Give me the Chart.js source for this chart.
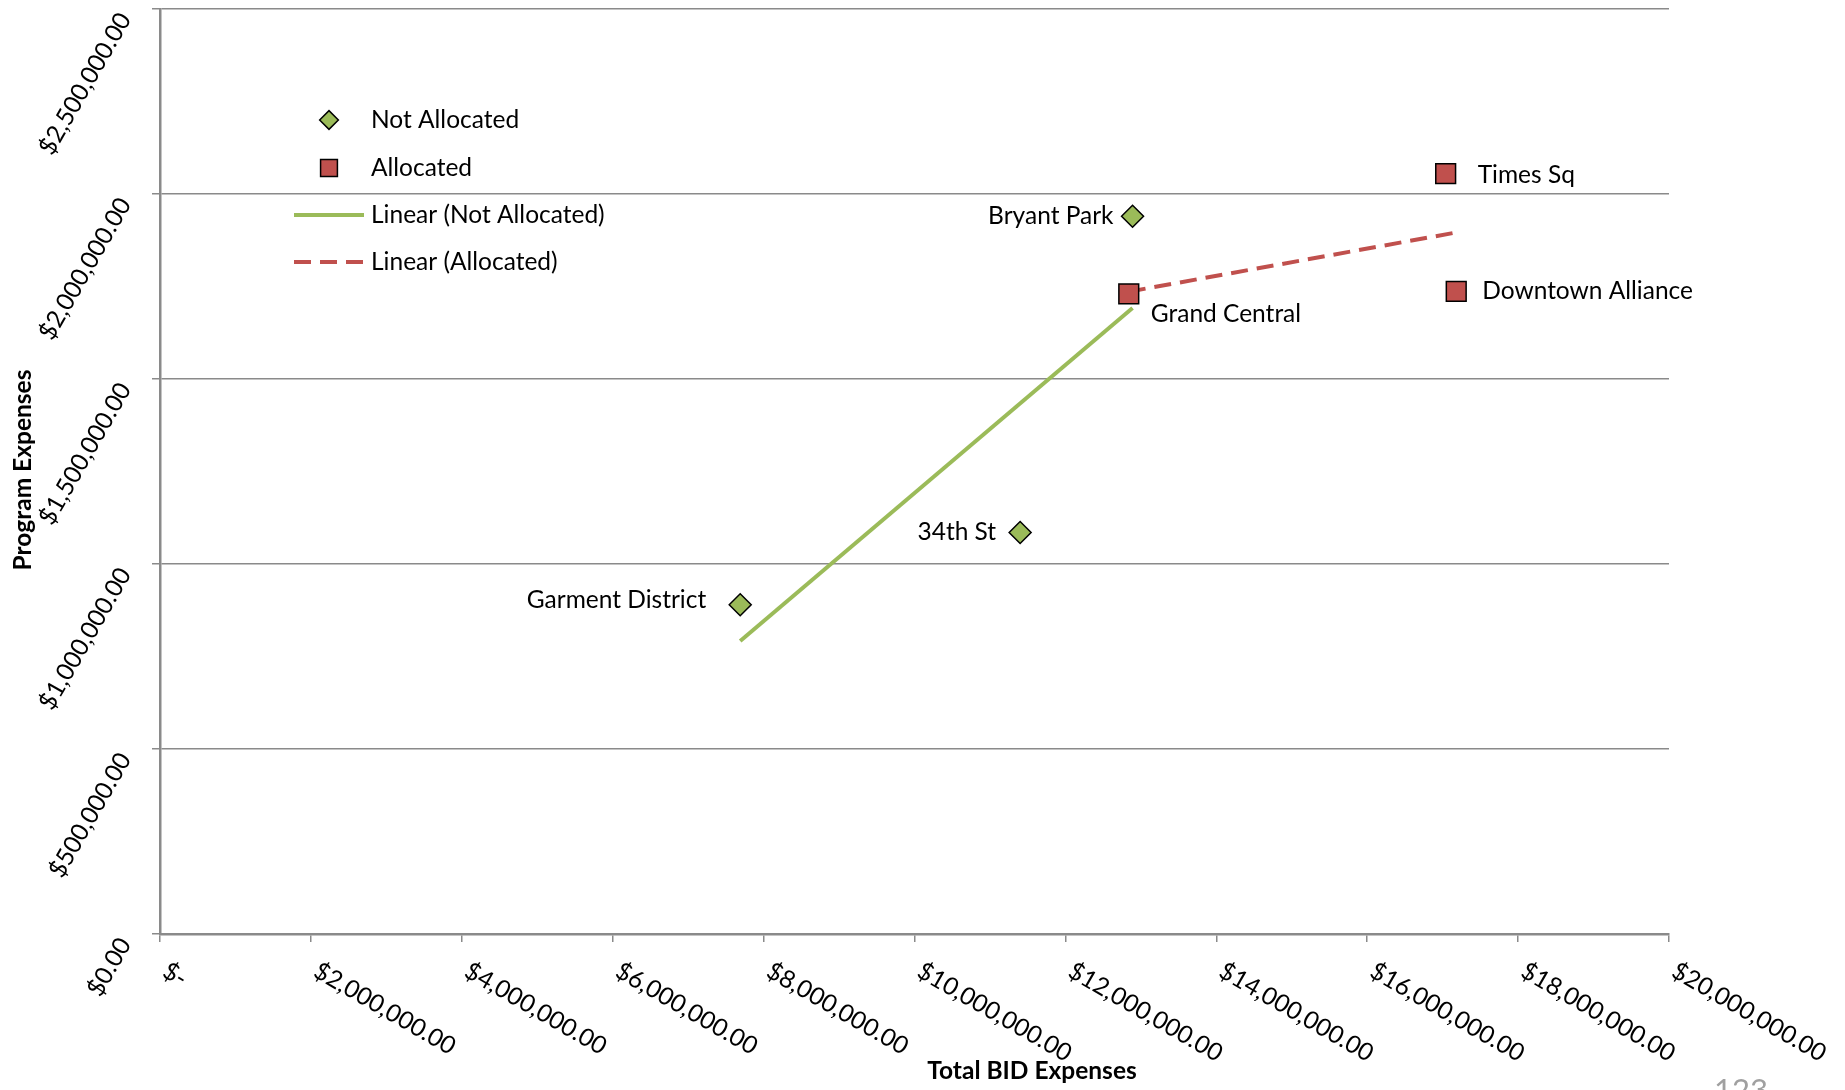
<!DOCTYPE html>
<html>
<head>
<meta charset="utf-8">
<script src="https://cdn.jsdelivr.net/npm/chart.js@4"></script>
<style>
  html, body { margin: 0; padding: 0; background: #fff; overflow: hidden; }
  #wrap { position: relative; width: 1845px; height: 1090px; overflow: hidden; }
  #pageNum { position: absolute; left: 1714px; top: 1070px; font: 31px Lato; color: #a0a0a0; }
</style>
</head>
<body>
<div id="wrap">
  <canvas id="chart" width="1845" height="1090"></canvas>
  <div id="pageNum">123</div>
</div>
<script>
// values
const notAllocatedNames = ['Garment District', '34th St', 'Bryant Park'];
const notAllocatedX = [7690000, 11400000, 12890000];
const notAllocatedY = [890000, 1085000, 1940000];

const allocatedNames = ['Grand Central', 'Times Sq', 'Downtown Alliance'];
const allocatedX = [12840000, 17040000, 17180000];
const allocatedY = [1730000, 2055000, 1737000];

// trendline end points as drawn
const trendNotAllocatedX = [7690000, 12890000];
const trendNotAllocatedY = [792000, 1692000];
const trendAllocatedX = [12840000, 17180000];
const trendAllocatedY = [1736000, 1896000];

const xTickLabels = ['$-', '$2,000,000.00', '$4,000,000.00', '$6,000,000.00', '$8,000,000.00', '$10,000,000.00',
    '$12,000,000.00', '$14,000,000.00', '$16,000,000.00', '$18,000,000.00', '$20,000,000.00'];
const yTickLabels = ['$0.00', '$500,000.00', '$1,000,000.00', '$1,500,000.00', '$2,000,000.00', '$2,500,000.00'];

const legendLabels = ['Not Allocated', 'Allocated', 'Linear (Not Allocated)', 'Linear (Allocated)'];

// where each point label sits relative to its marker: [dx, dy, align]
const notAllocatedLabelPos = [[-34, -5, 'right'], [-24, 0, 'right'], [-19, 0, 'right']];
const allocatedLabelPos = [[22, 20, 'left'], [32, 1, 'left'], [26, 0, 'left']];

const GREEN = '#9BBB59';
const RED = '#C0504D';
const GRID = '#8a8a8a';
const FONT_FAMILY = 'Lato';
const LABEL_FONT = '24.5px ' + FONT_FAMILY;

const toPoints = (xs, ys) => xs.map((x, i) => ({ x: x, y: ys[i] }));

const overlay = {
    id: 'overlay',
    afterDatasetsDraw(chart) {
        const ctx = chart.ctx;
        const xs = chart.scales.x;
        const ys = chart.scales.y;

        // point labels
        ctx.save();
        ctx.font = LABEL_FONT;
        ctx.fillStyle = '#000';
        ctx.textBaseline = 'middle';
        const drawNames = (names, xv, yv, pos) => {
            names.forEach((name, i) => {
                const px = xs.getPixelForValue(xv[i]);
                const py = ys.getPixelForValue(yv[i]);
                ctx.textAlign = pos[i][2];
                ctx.fillText(name, px + pos[i][0], py + pos[i][1]);
            });
        };
        drawNames(notAllocatedNames, notAllocatedX, notAllocatedY, notAllocatedLabelPos);
        drawNames(allocatedNames, allocatedX, allocatedY, allocatedLabelPos);

        // legend inside the plot
        const legendX = 329, textX = 371;
        const rowsY = [120, 168, 215, 262];
        chart.data.datasets.forEach((ds, i) => {
            const y = rowsY[i];
            ctx.save();
            if (ds.showLine) {
                ctx.strokeStyle = ds.borderColor;
                ctx.lineWidth = ds.borderWidth;
                ctx.setLineDash(ds.borderDash || []);
                ctx.beginPath();
                ctx.moveTo(294, y);
                ctx.lineTo(364, y);
                ctx.stroke();
            } else {
                ctx.fillStyle = ds.backgroundColor;
                ctx.strokeStyle = ds.borderColor;
                ctx.lineWidth = ds.borderWidth;
                Chart.helpers.drawPoint(ctx, {
                    pointStyle: ds.pointStyle, radius: ds.pointRadius * 0.85, rotation: 0, borderWidth: ds.borderWidth
                }, legendX, y);
            }
            ctx.restore();
            ctx.textAlign = 'left';
            ctx.fillText(legendLabels[i], textX, y);
        });
        ctx.restore();
    },
    afterDraw(chart) {
        const ctx = chart.ctx;
        const xs = chart.scales.x;
        const ys = chart.scales.y;
        const area = chart.chartArea;
        ctx.save();
        ctx.font = LABEL_FONT;
        ctx.fillStyle = '#000';
        ctx.textBaseline = 'middle';

        // x tick labels, slanting down to the right
        xs.ticks.forEach((t, i) => {
            const px = xs.getPixelForValue(t.value);
            ctx.save();
            ctx.translate(px + 5, area.bottom + 35);
            ctx.rotate(30 * Math.PI / 180);
            ctx.textAlign = 'left';
            ctx.fillText(xTickLabels[i], 0, 0);
            ctx.restore();
        });

        // y tick labels, slanting up to the right
        ys.ticks.forEach((t, i) => {
            const py = ys.getPixelForValue(t.value);
            ctx.save();
            ctx.translate(area.left - 35, py + 6);
            ctx.rotate(-60 * Math.PI / 180);
            ctx.textAlign = 'right';
            ctx.fillText(yTickLabels[i], 0, 0);
            ctx.restore();
        });

        // axis titles
        ctx.font = 'bold 24.5px ' + FONT_FAMILY;
        ctx.textAlign = 'center';
        ctx.fillText('Total BID Expenses', 1032, 1071);
        ctx.save();
        ctx.translate(23, 470);
        ctx.rotate(-Math.PI / 2);
        ctx.fillText('Program Expenses', 0, 0);
        ctx.restore();
        ctx.restore();
    }
};

const ctx = document.getElementById('chart').getContext('2d');
const chart = new Chart(ctx, {
    type: 'scatter',
    data: {
        datasets: [
            {
                label: 'Not Allocated',
                data: toPoints(notAllocatedX, notAllocatedY),
                pointStyle: 'rectRot',
                pointRadius: 11,
                backgroundColor: GREEN,
                borderColor: '#000',
                borderWidth: 1.5,
                order: 1
            },
            {
                label: 'Allocated',
                data: toPoints(allocatedX, allocatedY),
                pointStyle: 'rect',
                pointRadius: 14,
                backgroundColor: RED,
                borderColor: '#000',
                borderWidth: 1.5,
                order: 1
            },
            {
                label: 'Linear (Not Allocated)',
                data: toPoints(trendNotAllocatedX, trendNotAllocatedY),
                showLine: true,
                pointRadius: 0,
                borderColor: GREEN,
                borderWidth: 4,
                order: 2
            },
            {
                label: 'Linear (Allocated)',
                data: toPoints(trendAllocatedX, trendAllocatedY),
                showLine: true,
                pointRadius: 0,
                borderColor: RED,
                borderWidth: 4,
                borderDash: [17, 9],
                order: 2
            }
        ]
    },
    options: {
        responsive: false,
        animation: false,
        layout: {
            autoPadding: false,
            padding: { left: 152, right: 176, top: 9, bottom: 148 }
        },
        plugins: {
            legend: { display: false },
            tooltip: { enabled: false }
        },
        scales: {
            x: {
                type: 'linear',
                min: 0,
                max: 20000000,
                ticks: { stepSize: 2000000, display: false },
                grid: { drawOnChartArea: false, drawTicks: true, tickLength: 8, color: GRID, lineWidth: 1.5 },
                border: { color: GRID, width: 2.5 }
            },
            y: {
                type: 'linear',
                min: 0,
                max: 2500000,
                ticks: { stepSize: 500000, display: false },
                grid: { drawTicks: true, tickLength: 8, color: GRID, lineWidth: 1.5 },
                border: { color: GRID, width: 2.5 }
            }
        }
    },
    plugins: [overlay]
});
</script>
</body>
</html>
